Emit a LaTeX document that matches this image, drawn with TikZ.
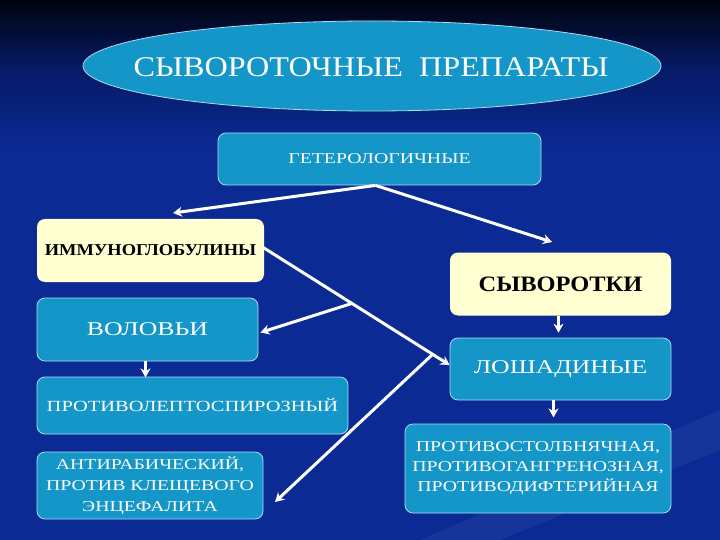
\documentclass[tikz,border=0pt]{standalone}
\usepackage{fontspec}
\setmainfont{Liberation Serif}
\newfontfamily\wideserif[FakeStretch=1.32]{Liberation Serif}
\newfontfamily\boldwide[FakeStretch=1.11]{Liberation Serif}
\newfontfamily\titleserif[FakeStretch=1.13]{Liberation Serif}
\usetikzlibrary{arrows.meta,calc,shapes.geometric}
\definecolor{bgtop}{HTML}{00040E}
\definecolor{bgmid}{HTML}{061A66}
\definecolor{bgblue}{HTML}{0B2A94}
\definecolor{boxblue}{HTML}{1596C8}
\definecolor{cream}{HTML}{FFFFD2}
\definecolor{edgecol}{HTML}{A8DDF2}
\tikzset{
  bluebox/.style={rectangle, rounded corners=8pt, fill=boxblue, draw=edgecol, line width=0.8pt, text=white, align=center, inner sep=0pt},
  creambox/.style={rectangle, rounded corners=8pt, fill=cream, draw=none, text=black, align=center, inner sep=0pt},
  conn/.style={draw=white, line width=3pt, -{Stealth[length=9pt,width=10pt]}},
}
\begin{document}
\begin{tikzpicture}[x=1pt,y=-1pt]
\useasboundingbox (0,0) rectangle (720,540);
\fill[top color=bgtop, bottom color=bgmid] (0,0) rectangle (720,70);
\fill[top color=bgmid, bottom color=bgblue] (0,70) rectangle (720,150);
\fill[bgblue] (0,150) rectangle (720,540);
\fill[white, opacity=0.05] (420,540) -- (720,410) -- (720,450) -- (500,540) -- cycle;

\node[ellipse, fill=boxblue, draw=edgecol, line width=0.8pt, minimum width=578pt, minimum height=90pt, inner sep=0pt] (title) at (372,66) {};
\node[text=white, font=\titleserif\fontsize{28.5}{30}\selectfont] (titletext) at (371,67) {СЫВОРОТОЧНЫЕ\ \ ПРЕПАРАТЫ};

\node[bluebox, minimum width=323pt, minimum height=52pt, font=\wideserif\fontsize{15}{17}\selectfont] (het) at (379.5,159) {ГЕТЕРОЛОГИЧНЫЕ};
\node[creambox, minimum width=227pt, minimum height=63pt, font=\boldwide\bfseries\fontsize{16.6}{18}\selectfont] (imm) at (150.5,250.5) {ИММУНОГЛОБУЛИНЫ};
\node[creambox, minimum width=221pt, minimum height=63pt, font=\boldwide\bfseries\fontsize{22}{24}\selectfont] (syv) at (560.5,284) {СЫВОРОТКИ};
\node[bluebox, minimum width=221pt, minimum height=63pt, font=\wideserif\fontsize{19.5}{21}\selectfont] (vol) at (147.5,329.5) {ВОЛОВЬИ};
\node[bluebox, minimum width=221pt, minimum height=62pt, font=\wideserif\fontsize{19.5}{21}\selectfont] (losh) at (560.5,369) {ЛОШАДИНЫЕ};
\node[bluebox, minimum width=311pt, minimum height=57pt, font=\wideserif\fontsize{15.5}{17}\selectfont] (lepto) at (192.5,405.5) {ПРОТИВОЛЕПТОСПИРОЗНЫЙ};
\node[bluebox, minimum width=226pt, minimum height=67pt, font=\wideserif\fontsize{15}{21}\selectfont] (anti) at (150,485.5) {АНТИРАБИЧЕСКИЙ,\\ПРОТИВ КЛЕЩЕВОГО\\ЭНЦЕФАЛИТА};
\node[bluebox, minimum width=266pt, minimum height=89pt, font=\wideserif\fontsize{15}{20}\selectfont] (stolb) at (538,468.5) {ПРОТИВОСТОЛБНЯЧНАЯ,\\ПРОТИВОГАНГРЕНОЗНАЯ,\\ПРОТИВОДИФТЕРИЙНАЯ};

% connector anchors
\coordinate (hb) at ($(het.south)+(-4,0)$);
\coordinate (immtip) at (173,213);
\coordinate (syvtip) at (552,242);
\coordinate (diagA) at ($(imm.east)+(-1,-3)$);
\coordinate (diagB) at ($(losh.west)+(0,-4)$);
\coordinate (br1) at ($(diagA)!0.476!(diagB)$);
\coordinate (br2) at ($(diagA)!0.909!(diagB)$);
\coordinate (voltip) at ($(vol.east)+(2,3)$);
\coordinate (antitip) at (275,502);
\coordinate (vs) at ($(vol.south)+(-2,0)$);
\coordinate (vt) at ($(vs)+(0,16)$);
\coordinate (ss) at ($(syv.south)+(-2,0)$);
\coordinate (st) at ($(ss)+(0,17)$);
\coordinate (ls) at ($(losh.south)+(-7,0)$);
\coordinate (lt) at ($(ls)+(0,17)$);

\draw[conn] (hb) -- (immtip);
\draw[conn] (hb) -- (syvtip);
\draw[conn] (diagA) -- (diagB);
\draw[conn] (br1) -- (voltip);
\draw[conn] (br2) -- (antitip);
\draw[conn] (vs) -- (vt);
\draw[conn] (ss) -- (st);
\draw[conn] (ls) -- (lt);
\end{tikzpicture}
\end{document}
